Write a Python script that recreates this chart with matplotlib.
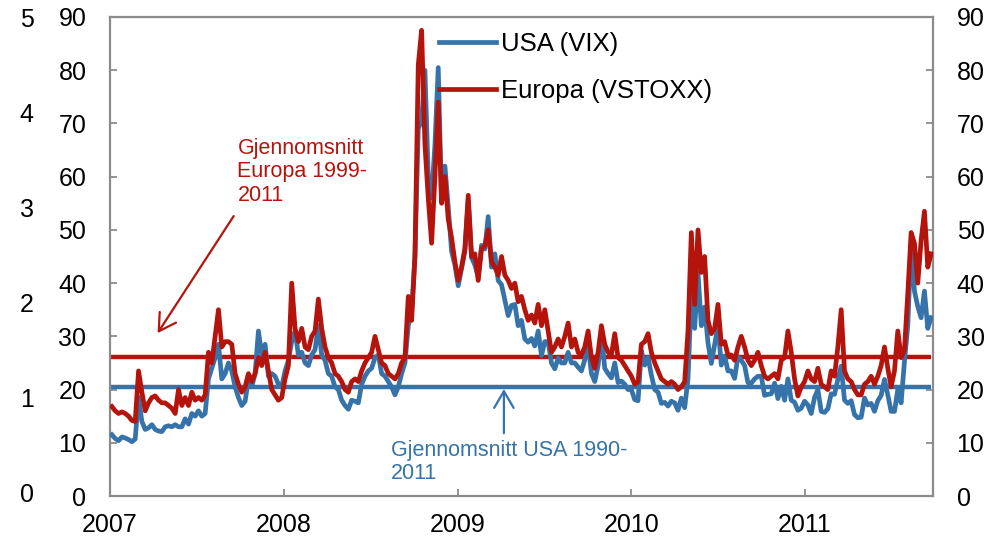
import numpy as np
import pandas as pd
import matplotlib
matplotlib.use('Agg')
import matplotlib.pyplot as plt
import matplotlib.dates as mdates

plt.rcParams['font.family'] = ['Liberation Sans', 'DejaVu Sans']

BLUE = '#3673AA'
RED = '#B4140C'
GREY = '#8C8C8C'

# weekly values (Fridays)
years = [2007, 2008, 2009, 2010, 2011]

vix_2007 = [11.5, 10.8, 10.4, 11.1,  10.9, 10.6, 10.2, 10.7,  18.6, 14.0, 12.5, 12.8, 13.4,
            12.5, 12.2, 12.1, 13.0,  13.2, 13.0, 13.4, 13.0,  13.0, 14.5, 13.5, 15.5, 15.0,
            16.0, 15.0, 15.5, 22.0,  24.0, 26.0, 28.5, 22.0, 23.0,  25.0, 23.5, 20.5, 18.5,
            17.0, 17.8, 22.0, 20.5,  23.0, 31.0, 26.5, 28.5, 22.5,  23.0, 22.5, 21.0, 20.5]
vix_2008 = [23.5, 25.5, 29.0, 31.0,  26.5, 27.0, 25.0, 24.5, 26.5,  27.5, 32.0, 26.5, 25.5,
            23.0, 22.5, 20.5, 20.0,  18.0, 17.0, 16.3, 18.0, 17.8,  17.5, 21.0, 22.5, 23.5,
            24.0, 26.0, 26.5, 23.0,  22.5, 21.5, 20.5, 19.0, 20.5,  23.0, 25.0, 32.0, 34.5,
            45.0, 69.0, 70.5, 80.0, 60.0,  56.0, 66.0, 80.5, 55.5,  62.0, 54.3, 46.0, 43.4]
vix_2009 = [39.5, 42.8, 46.0, 55.5, 44.8,  43.4, 41.2, 47.1, 46.4,  52.5, 43.0, 45.5, 40.5,
            39.7, 36.8, 33.9, 35.8,  36.0, 32.0, 33.0, 29.5, 28.9,  29.6, 28.2, 31.0, 26.4,
            29.0, 29.0, 25.0, 23.9, 25.9,  25.0, 25.0, 27.0, 25.0,  25.0, 24.2, 23.5, 25.6,
            28.5, 23.0, 21.5, 24.5, 30.5,  24.0, 23.0, 22.2, 25.0,  21.3, 21.6, 21.0, 20.0]
vix_2010 = [20.0, 18.1, 17.9, 27.3, 24.6,  26.1, 22.7, 20.0, 19.5,  17.4, 17.6, 16.9, 17.8,
            17.5, 16.1, 18.4, 16.6, 22.0,  38.0, 31.5, 42.0, 32.0,  35.5, 28.8, 24.9, 28.5,
            32.0, 24.6, 26.3, 23.5, 23.5,  22.1, 26.2, 25.5, 24.5,  21.3, 21.2, 22.0, 22.5,
            22.5, 18.9, 19.1, 19.2, 21.2,  18.3, 20.6, 18.0, 22.0,  18.0, 17.6, 16.1, 16.5, 17.8]
vix_2011 = [17.1, 15.5, 18.5, 20.0,  15.9, 15.7, 16.4, 19.2,  19.1, 21.9, 24.4, 18.0,
            17.4, 17.9, 15.3, 14.7, 14.8,  18.4, 17.1, 17.4, 15.9,  17.9, 18.9, 21.9, 19.0,
            15.9, 15.9, 20.0, 17.5, 25.3,  32.0, 47.5, 38.5, 35.6,  33.5, 38.5, 31.5, 33.5]

vstoxx_2007 = [16.8, 16.0, 15.5, 15.8,  15.5, 15.0, 14.2, 14.0,  23.5, 19.5, 16.0, 17.5, 18.5,
               18.8, 18.0, 17.5, 17.5,  17.0, 16.5, 15.5, 20.0,  17.0, 18.5, 17.0, 19.5, 18.0,
               18.5, 18.0, 19.0, 27.0,  25.0, 30.0, 35.0, 28.0, 29.0,  29.0, 28.5, 23.0, 21.0,
               19.5, 20.5, 23.0, 21.5,  23.0, 26.0, 24.5, 27.0, 23.5,  20.0, 19.0, 18.0, 18.5]
vstoxx_2008 = [22.0, 24.5, 40.0, 31.5,  29.0, 31.5, 28.0, 27.5, 30.0,  31.0, 37.0, 31.5, 28.0,
               26.0, 25.0, 23.0, 22.5,  21.5, 20.0, 19.5, 21.5, 22.0,  21.5, 23.5, 25.0, 26.0,
               27.0, 30.0, 27.5, 25.0,  24.5, 23.0, 22.5, 22.0, 23.0,  25.0, 26.0, 37.5, 33.0,
               45.0, 81.0, 87.5, 66.0, 56.0,  47.5, 60.0, 74.0, 55.0,  60.0, 52.0, 48.5, 44.0]
vstoxx_2009 = [40.5, 43.0, 46.5, 56.5, 45.0,  45.5, 40.5, 46.5, 47.0,  50.0, 44.0, 43.0, 41.5,
               45.0, 41.5, 40.5, 39.0,  40.0, 36.5, 37.5, 35.0, 33.0,  34.0, 32.5, 36.0, 32.0,
               35.0, 31.0, 27.0, 28.0, 29.5,  28.0, 30.0, 32.5, 28.0,  29.5, 27.0, 26.5, 28.0,
               31.0, 26.0, 24.0, 27.0, 32.0,  28.5, 27.0, 26.5, 30.5,  26.0, 25.5, 24.5, 23.5]
vstoxx_2010 = [22.5, 21.0, 21.5, 28.5, 29.0,  30.5, 27.0, 25.0, 23.5,  22.0, 21.5, 21.0, 21.5,
               21.0, 20.0, 20.5, 21.5, 31.0,  49.5, 36.0, 50.0, 42.0,  45.0, 33.0, 30.5, 31.5,
               36.0, 28.5, 29.0, 26.5, 26.5,  25.5, 28.0, 30.0, 28.0,  25.5, 24.5, 25.5, 27.0,
               24.5, 22.5, 22.0, 22.5, 23.0,  22.0, 25.5, 26.0, 31.0,  27.0, 22.0, 18.8, 20.5, 21.5]
vstoxx_2011 = [23.5, 22.0, 21.5, 24.0,  21.0, 20.5, 20.0, 23.5,  22.5, 28.0, 35.0, 23.5,
               22.0, 21.5, 20.0, 19.0, 19.0,  21.0, 21.5, 22.5, 21.0,  22.5, 24.5, 28.0, 24.0,
               20.5, 23.5, 31.0, 26.0, 27.5,  38.0, 49.5, 47.5, 40.0,  48.0, 53.5, 43.0, 45.5]

avg_usa = 20.5      # Gjennomsnitt USA 1990-2011
avg_europa = 26.1   # Gjennomsnitt Europa 1999-2011

vix_years = [vix_2007, vix_2008, vix_2009, vix_2010, vix_2011]
vstoxx_years = [vstoxx_2007, vstoxx_2008, vstoxx_2009, vstoxx_2010, vstoxx_2011]

date_parts = [pd.date_range(f'{y}-01-01', periods=len(v), freq='W-FRI') for y, v in zip(years, vix_years)]
dates = date_parts[0].append(date_parts[1:])
vix = np.concatenate(vix_years)
vstoxx = np.concatenate(vstoxx_years)

x_start = pd.Timestamp('2007-01-01')
x_end = pd.Timestamp('2011-09-27')

fig = plt.figure(figsize=(9.96, 5.4), dpi=100)
ax = fig.add_axes([110 / 996, 1 - 496 / 540, 823 / 996, 479 / 540])

ax.plot([x_start, dates[-1]], [avg_usa, avg_usa], color=BLUE, lw=3.2, solid_capstyle='butt', zorder=2)
ax.plot([x_start, dates[-1]], [avg_europa, avg_europa], color=RED, lw=3.2, solid_capstyle='butt', zorder=2)
l_usa, = ax.plot(dates, vix, color=BLUE, lw=3.4, label='USA (VIX)', zorder=3)
l_eu, = ax.plot(dates, vstoxx, color=RED, lw=3.4, label='Europa (VSTOXX)', zorder=4)

ax.set_xlim(x_start, x_end)
ax.set_ylim(0, 90)
ax.set_yticks(np.arange(0, 91, 10))
ax.xaxis.set_major_locator(mdates.YearLocator())
ax.xaxis.set_major_formatter(mdates.DateFormatter('%Y'))

for s in ax.spines.values():
    s.set_color(GREY)
    s.set_linewidth(1.6)
ax.tick_params(axis='y', direction='in', length=5, width=1.3, color=GREY,
               labelsize=18, pad=17, right=True, labelright=True)
ax.tick_params(axis='x', direction='in', length=5, width=1.3, color=GREY,
               labelsize=18, pad=12)

# leftover outer axis 0-5
ax_out = fig.add_axes(ax.get_position(), frameon=False)
ax_out.set_ylim(-0.042, 5.01)
ax_out.set_yticks(range(0, 6))
ax_out.set_xticks([])
ax_out.tick_params(axis='y', length=0, labelsize=18, pad=55)

ax.legend(handles=[l_usa, l_eu], loc='upper left', bbox_to_anchor=(0.3998, 0.968),
          frameon=False, fontsize=18.5, handlelength=2.2, handletextpad=0.2,
          labelspacing=0.9, borderpad=0, borderaxespad=0)

ax.text(pd.Timestamp('2007-09-26'), 67.3, 'Gjennomsnitt\nEuropa 1999-\n2011', color=RED,
        fontsize=15.5, va='top', ha='left', linespacing=1.15)
ax.annotate('', xy=(pd.Timestamp('2007-04-11'), 30.6), xytext=(pd.Timestamp('2007-09-18'), 52.6),
            arrowprops=dict(arrowstyle='->, head_length=0.6, head_width=0.35', color=RED,
                            lw=1.6, mutation_scale=20, shrinkA=0, shrinkB=0))

ax.text(pd.Timestamp('2008-08-13'), 10.6, 'Gjennomsnitt USA 1990-\n2011', color=BLUE,
        fontsize=15.5, va='top', ha='left', linespacing=1.15)
ax.annotate('', xy=(pd.Timestamp('2009-04-08'), 20.1), xytext=(pd.Timestamp('2009-04-08'), 11.8),
            arrowprops=dict(arrowstyle='->, head_length=0.6, head_width=0.35', color=BLUE,
                            lw=1.6, mutation_scale=20, shrinkA=0, shrinkB=0))

fig.savefig('out.png', dpi=100)
